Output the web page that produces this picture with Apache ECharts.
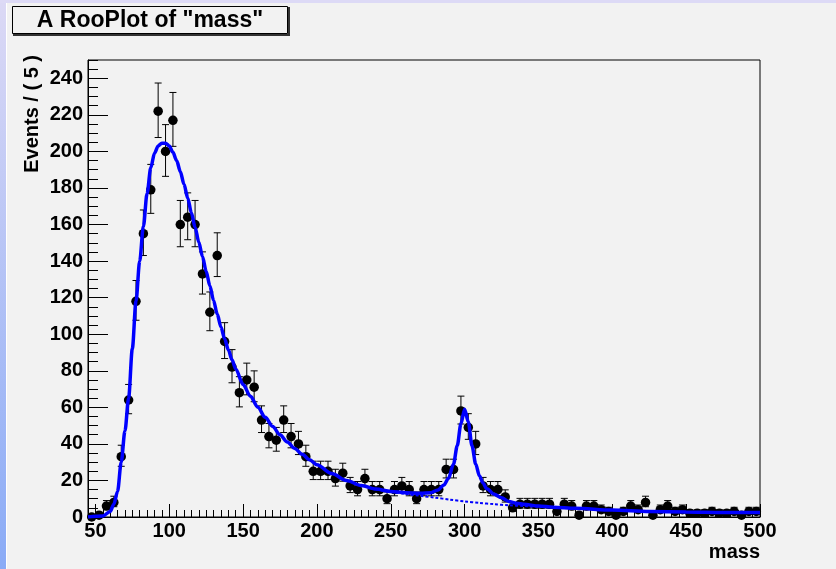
<!DOCTYPE html>
<html>
<head>
<meta charset="utf-8">
<script src="https://cdn.jsdelivr.net/npm/echarts@6/dist/echarts.min.js"></script>
<style>
  html, body { margin: 0; padding: 0; background: #f2f2f2; }
  #chart { width: 836px; height: 569px; }
</style>
</head>
<body>
<div id="chart"></div>
<script>
// Bin centres of the "mass" histogram (bin width 5)
const massBins = [
  47.5, 52.5, 57.5, 62.5, 67.5, 72.5, 77.5, 82.5, 87.5, 92.5,
  97.5, 102.5, 107.5, 112.5, 117.5, 122.5, 127.5, 132.5, 137.5, 142.5,
  147.5, 152.5, 157.5, 162.5, 167.5, 172.5, 177.5, 182.5, 187.5, 192.5,
  197.5, 202.5, 207.5, 212.5, 217.5, 222.5, 227.5, 232.5, 237.5, 242.5,
  247.5, 252.5, 257.5, 262.5, 267.5, 272.5, 277.5, 282.5, 287.5, 292.5,
  297.5, 302.5, 307.5, 312.5, 317.5, 322.5, 327.5, 332.5, 337.5, 342.5,
  347.5, 352.5, 357.5, 362.5, 367.5, 372.5, 377.5, 382.5, 387.5, 392.5,
  397.5, 402.5, 407.5, 412.5, 417.5, 422.5, 427.5, 432.5, 437.5, 442.5,
  447.5, 452.5, 457.5, 462.5, 467.5, 472.5, 477.5, 482.5, 487.5, 492.5,
  497.5
];

// Events per bin
const events = [
  0, 1, 6, 8, 33, 64, 118, 155, 179, 222,
  200, 217, 160, 164, 160, 133, 112, 143, 96, 82,
  68, 75, 71, 53, 44, 42, 53, 44, 40, 33,
  25, 25, 25, 21, 24, 17, 15, 21, 15, 15,
  10, 15, 17, 15, 10, 15, 15, 15, 26, 26,
  58, 49, 40, 17, 15, 15, 11, 5, 7, 7,
  7, 7, 7, 3, 7, 6, 1, 6, 6, 4,
  3, 1, 3, 6, 4, 8, 1, 4, 6, 3,
  4, 2, 2, 2, 3, 2, 2, 3, 1, 3,
  3
];

// Fitted model (total)
const modelMass = [
  45, 55, 60, 62.5, 65, 67.5, 70, 72.5, 75, 77.5,
  80, 82.5, 85, 87.5, 90, 92.5, 95, 97.5, 100, 102.5,
  105, 107.5, 110, 112.5, 115, 117.5, 120, 122.5, 125, 127.5,
  130, 132.5, 135, 137.5, 140, 142.5, 145, 150, 155, 160,
  165, 170, 175, 180, 185, 190, 195, 200, 210, 220,
  230, 240, 250, 260, 270, 277, 282, 286, 289, 292.5,
  295, 297.5, 300, 302.5, 305, 307.5, 310, 312.5, 315, 320,
  325, 330, 335, 340, 350, 360, 375, 400, 425, 450,
  475, 500
];
const modelTotal = [
  0, 0.5, 3, 7, 14, 30, 47, 65, 92, 118,
  140, 159, 177, 191, 199, 203, 204.5, 204.5, 203, 199.5,
  195, 189, 182, 174.5, 166.5, 158.5, 150.5, 142.5, 134.5, 126.5,
  118.5, 111, 104, 97.5, 91.5, 86, 81, 72.5, 66, 60,
  54.5, 49.5, 45, 41, 37.5, 34.3, 31.3, 28.6, 23.8, 20,
  17.2, 15.3, 14, 13.3, 13, 13.3, 14.8, 17.5, 21, 29,
  39, 51, 59, 52, 39, 29, 22.5, 18.5, 15.5, 12.5,
  10.5, 8.5, 7.5, 7, 6, 5.4, 4.8, 3.8, 3, 2.8,
  2.5, 2.4
];

// Background component of the model
const bkgMass = [240, 250, 260, 270, 280, 290, 300, 310, 320, 330, 340, 350, 360];
const bkgValue = [15.1, 13.8, 12.6, 11.6, 10.6, 9.5, 8.5, 7.7, 7.0, 6.4, 6.0, 5.6, 5.3];

// Axis tick values
const xMajorTicks = [50, 100, 150, 200, 250, 300, 350, 400, 450, 500];
const yMajorTicks = [0, 20, 40, 60, 80, 100, 120, 140, 160, 180, 200, 220, 240];
const xMinorTicks = [];
for (let v = 45; v <= 500; v += 5) xMinorTicks.push(v);
const yMinorTicks = [];
for (let v = 0; v <= 250; v += 5) yMinorTicks.push(v);

// Poisson central interval (approximation) for the error bars
function poissonBand(n) {
  const s = Math.sqrt(n + 0.25);
  return [Math.max(0, n + 0.5 - s), n + 0.5 + s];
}

const points = massBins.map((m, i) => [m, events[i]]);
const bars = massBins.map((m, i) => {
  const b = poissonBand(events[i]);
  return [m, b[0], b[1]];
});
const totalLine = modelMass.map((m, i) => [m, modelTotal[i]]);
const bkgLine = bkgMass.map((m, i) => [m, bkgValue[i]]);

const FONT = '"Liberation Sans", Arial, sans-serif';
const labelStyle = { color: '#000', fontWeight: 'bold', fontSize: 20, fontFamily: FONT };

const chart = echarts.init(document.getElementById('chart'), null, { renderer: 'canvas' });

chart.setOption({
  backgroundColor: '#f2f2f2',
  animation: false,
  grid: {
    left: 88, right: 76, top: 60, bottom: 52,
    show: true, borderColor: '#000', borderWidth: 1, backgroundColor: '#f2f2f2'
  },
  xAxis: [
    {
      type: 'value', min: 45, max: 500, position: 'bottom',
      axisLine: { show: true, lineStyle: { color: '#000', width: 1 } },
      axisTick: { show: true, inside: true, length: 13, customValues: xMajorTicks, lineStyle: { color: '#000' } },
      axisLabel: Object.assign({ margin: 4, customValues: xMajorTicks }, labelStyle),
      splitLine: { show: false }
    },
    {
      type: 'value', min: 45, max: 500, position: 'bottom',
      axisLine: { show: false },
      axisTick: { show: true, inside: true, length: 7, customValues: xMinorTicks, lineStyle: { color: '#000' } },
      axisLabel: { show: false },
      splitLine: { show: false }
    }
  ],
  yAxis: [
    {
      type: 'value', min: 0, max: 250, position: 'left',
      axisLine: { show: true, lineStyle: { color: '#000', width: 1 } },
      axisTick: { show: true, inside: true, length: 20, customValues: yMajorTicks, lineStyle: { color: '#000' } },
      axisLabel: Object.assign({ margin: 5, customValues: yMajorTicks }, labelStyle),
      splitLine: { show: false }
    },
    {
      type: 'value', min: 0, max: 250, position: 'left',
      axisLine: { show: false },
      axisTick: { show: true, inside: true, length: 10, customValues: yMinorTicks, lineStyle: { color: '#000' } },
      axisLabel: { show: false },
      splitLine: { show: false }
    }
  ],
  graphic: [
    // window frame strips
    {
      type: 'rect', left: 0, top: 0, z: 100,
      shape: { x: 0, y: 0, width: 6, height: 569 },
      style: {
        fill: new echarts.graphic.LinearGradient(0, 0, 0, 1, [
          { offset: 0, color: '#dcd9f5' },
          { offset: 1, color: '#8aabf6' }
        ])
      }
    },
    {
      type: 'rect', left: 0, top: 0, z: 100,
      shape: { x: 0, y: 0, width: 836, height: 3 },
      style: { fill: '#dddaf6' }
    },
    {
      type: 'line', z: 100,
      shape: { x1: 6.5, y1: 3, x2: 6.5, y2: 569 },
      style: { stroke: '#ffffff', lineWidth: 1 }
    },
    // title box
    {
      type: 'rect', z: 100,
      shape: { x: 12.5, y: 6.5, width: 275, height: 27 },
      style: { fill: '#f2f2f2', stroke: '#000', lineWidth: 1 }
    },
    {
      type: 'polyline', z: 100,
      shape: { points: [[289, 7], [289, 35], [13, 35]] },
      style: { stroke: '#333', lineWidth: 2, fill: null }
    },
    {
      type: 'text', z: 101, x: 150, y: 21,
      style: {
        text: 'A RooPlot of "mass"', fill: '#000',
        font: 'bold 23px ' + FONT, textAlign: 'center', textVerticalAlign: 'middle'
      }
    },
    // axis titles
    {
      type: 'text', z: 101, x: 32, y: 55, rotation: Math.PI / 2,
      style: {
        text: 'Events / ( 5 )', fill: '#000',
        font: 'bold 20px ' + FONT, textAlign: 'right', textVerticalAlign: 'middle'
      }
    },
    {
      type: 'text', z: 101, x: 760, y: 552,
      style: {
        text: 'mass', fill: '#000',
        font: 'bold 20px ' + FONT, textAlign: 'right', textVerticalAlign: 'middle'
      }
    }
  ],
  series: [
    {
      name: 'errors', type: 'custom', xAxisIndex: 0, yAxisIndex: 0, z: 3,
      data: bars,
      renderItem: function (params, api) {
        const x = api.value(0);
        const pLo = api.coord([x, api.value(1)]);
        const pHi = api.coord([x, api.value(2)]);
        const cap = 3.5;
        const st = { stroke: '#000', lineWidth: 1 };
        return {
          type: 'group',
          children: [
            { type: 'line', shape: { x1: pLo[0], y1: pLo[1], x2: pHi[0], y2: pHi[1] }, style: st },
            { type: 'line', shape: { x1: pHi[0] - cap, y1: pHi[1], x2: pHi[0] + cap, y2: pHi[1] }, style: st },
            { type: 'line', shape: { x1: pLo[0] - cap, y1: pLo[1], x2: pLo[0] + cap, y2: pLo[1] }, style: st }
          ]
        };
      }
    },
    {
      name: 'data', type: 'scatter', xAxisIndex: 0, yAxisIndex: 0, z: 4,
      data: points, symbol: 'circle', symbolSize: 9.5,
      itemStyle: { color: '#000', opacity: 1 }
    },
    {
      name: 'background', type: 'line', xAxisIndex: 0, yAxisIndex: 0, z: 5,
      data: bkgLine, showSymbol: false, smooth: 0.3,
      lineStyle: { color: '#0000ff', width: 2, type: [3, 2] }
    },
    {
      name: 'model', type: 'line', xAxisIndex: 0, yAxisIndex: 0, z: 6,
      data: totalLine, showSymbol: false, smooth: 0.3, smoothMonotone: 'x',
      lineStyle: { color: '#0000ff', width: 3.5 }
    }
  ]
});
</script>
</body>
</html>
